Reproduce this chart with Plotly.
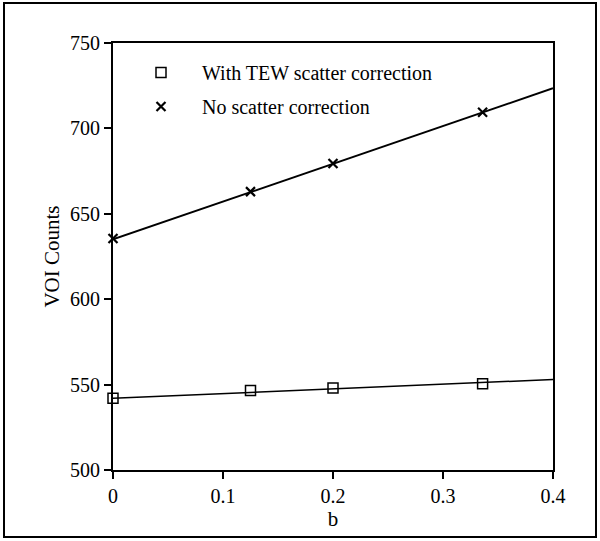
import plotly.graph_objects as go

b_vals = [0.0, 0.125, 0.2, 0.336]
tew_counts = [542, 546.5, 548, 550.5]
noscat_counts = [635.5, 663, 679.5, 709.5]

fit_b = [0.0, 0.4]
tew_fit = [542, 553]
noscat_fit = [635, 723.5]

FONT = "Liberation Serif"
fig = go.Figure()

fig.add_trace(go.Scatter(x=fit_b, y=tew_fit, mode="lines", line=dict(color="black", width=1.5),
                         showlegend=False, hoverinfo="skip", cliponaxis=False))
fig.add_trace(go.Scatter(x=fit_b, y=noscat_fit, mode="lines", line=dict(color="black", width=2),
                         showlegend=False, hoverinfo="skip", cliponaxis=False))
fig.add_trace(go.Scatter(x=b_vals, y=tew_counts, mode="markers", name="With TEW scatter correction",
                         legendgroup="a", cliponaxis=False,
                         marker=dict(symbol="square-open", size=10, color="black", line=dict(width=1.5))))
fig.add_trace(go.Scatter(x=b_vals, y=noscat_counts, mode="markers", name="No scatter correction",
                         legendgroup="b", cliponaxis=False,
                         marker=dict(symbol="x-thin", size=9, color="black", line=dict(width=2.2, color="black"))))

L, R, T, B = 113, 47, 43, 71
W, H = 600, 541
pw, ph = W - L - R, H - T - B

fig.update_layout(
    width=W, height=H,
    margin=dict(l=L, r=R, t=T, b=B),
    paper_bgcolor="white", plot_bgcolor="white",
    font=dict(family=FONT, size=20, color="black"),
    legend=dict(x=(120 - L) / pw, y=1 - (53 - T) / ph, xanchor="left", yanchor="top",
                bgcolor="rgba(0,0,0,0)", itemwidth=72, tracegroupgap=5,
                traceorder="grouped", font=dict(family=FONT, size=20)),
    xaxis=dict(range=[0, 0.4], tickvals=[0, 0.1, 0.2, 0.3, 0.4], ticktext=["0", "0.1", "0.2", "0.3", "0.4"],
               ticks="outside", ticklen=7, tickwidth=1.5, tickcolor="black",
               tickfont=dict(family=FONT, size=20),
               showline=True, linecolor="black", linewidth=2, mirror=True,
               showgrid=False, zeroline=False,
               title=dict(text="b", font=dict(family=FONT, size=21), standoff=1)),
    yaxis=dict(range=[500, 750], tickvals=[500, 550, 600, 650, 700, 750],
               ticks="outside", ticklen=7, tickwidth=1.5, tickcolor="black",
               tickfont=dict(family=FONT, size=20),
               showline=True, linecolor="black", linewidth=2, mirror=True,
               showgrid=False, zeroline=False,
               title=dict(text="VOI Counts", font=dict(family=FONT, size=21), standoff=5)),
    shapes=[dict(type="rect", xref="paper", yref="paper",
                 x0=(4 - L) / pw, x1=(596 - L) / pw,
                 y0=(H - B - 537) / ph, y1=(H - B - 3) / ph,
                 line=dict(color="black", width=2), fillcolor="rgba(0,0,0,0)", layer="below")],
)

fig.write_html("out.html", config={"displayModeBar": False},
               post_script="document.body.style.margin='0';document.body.style.padding='0';")
